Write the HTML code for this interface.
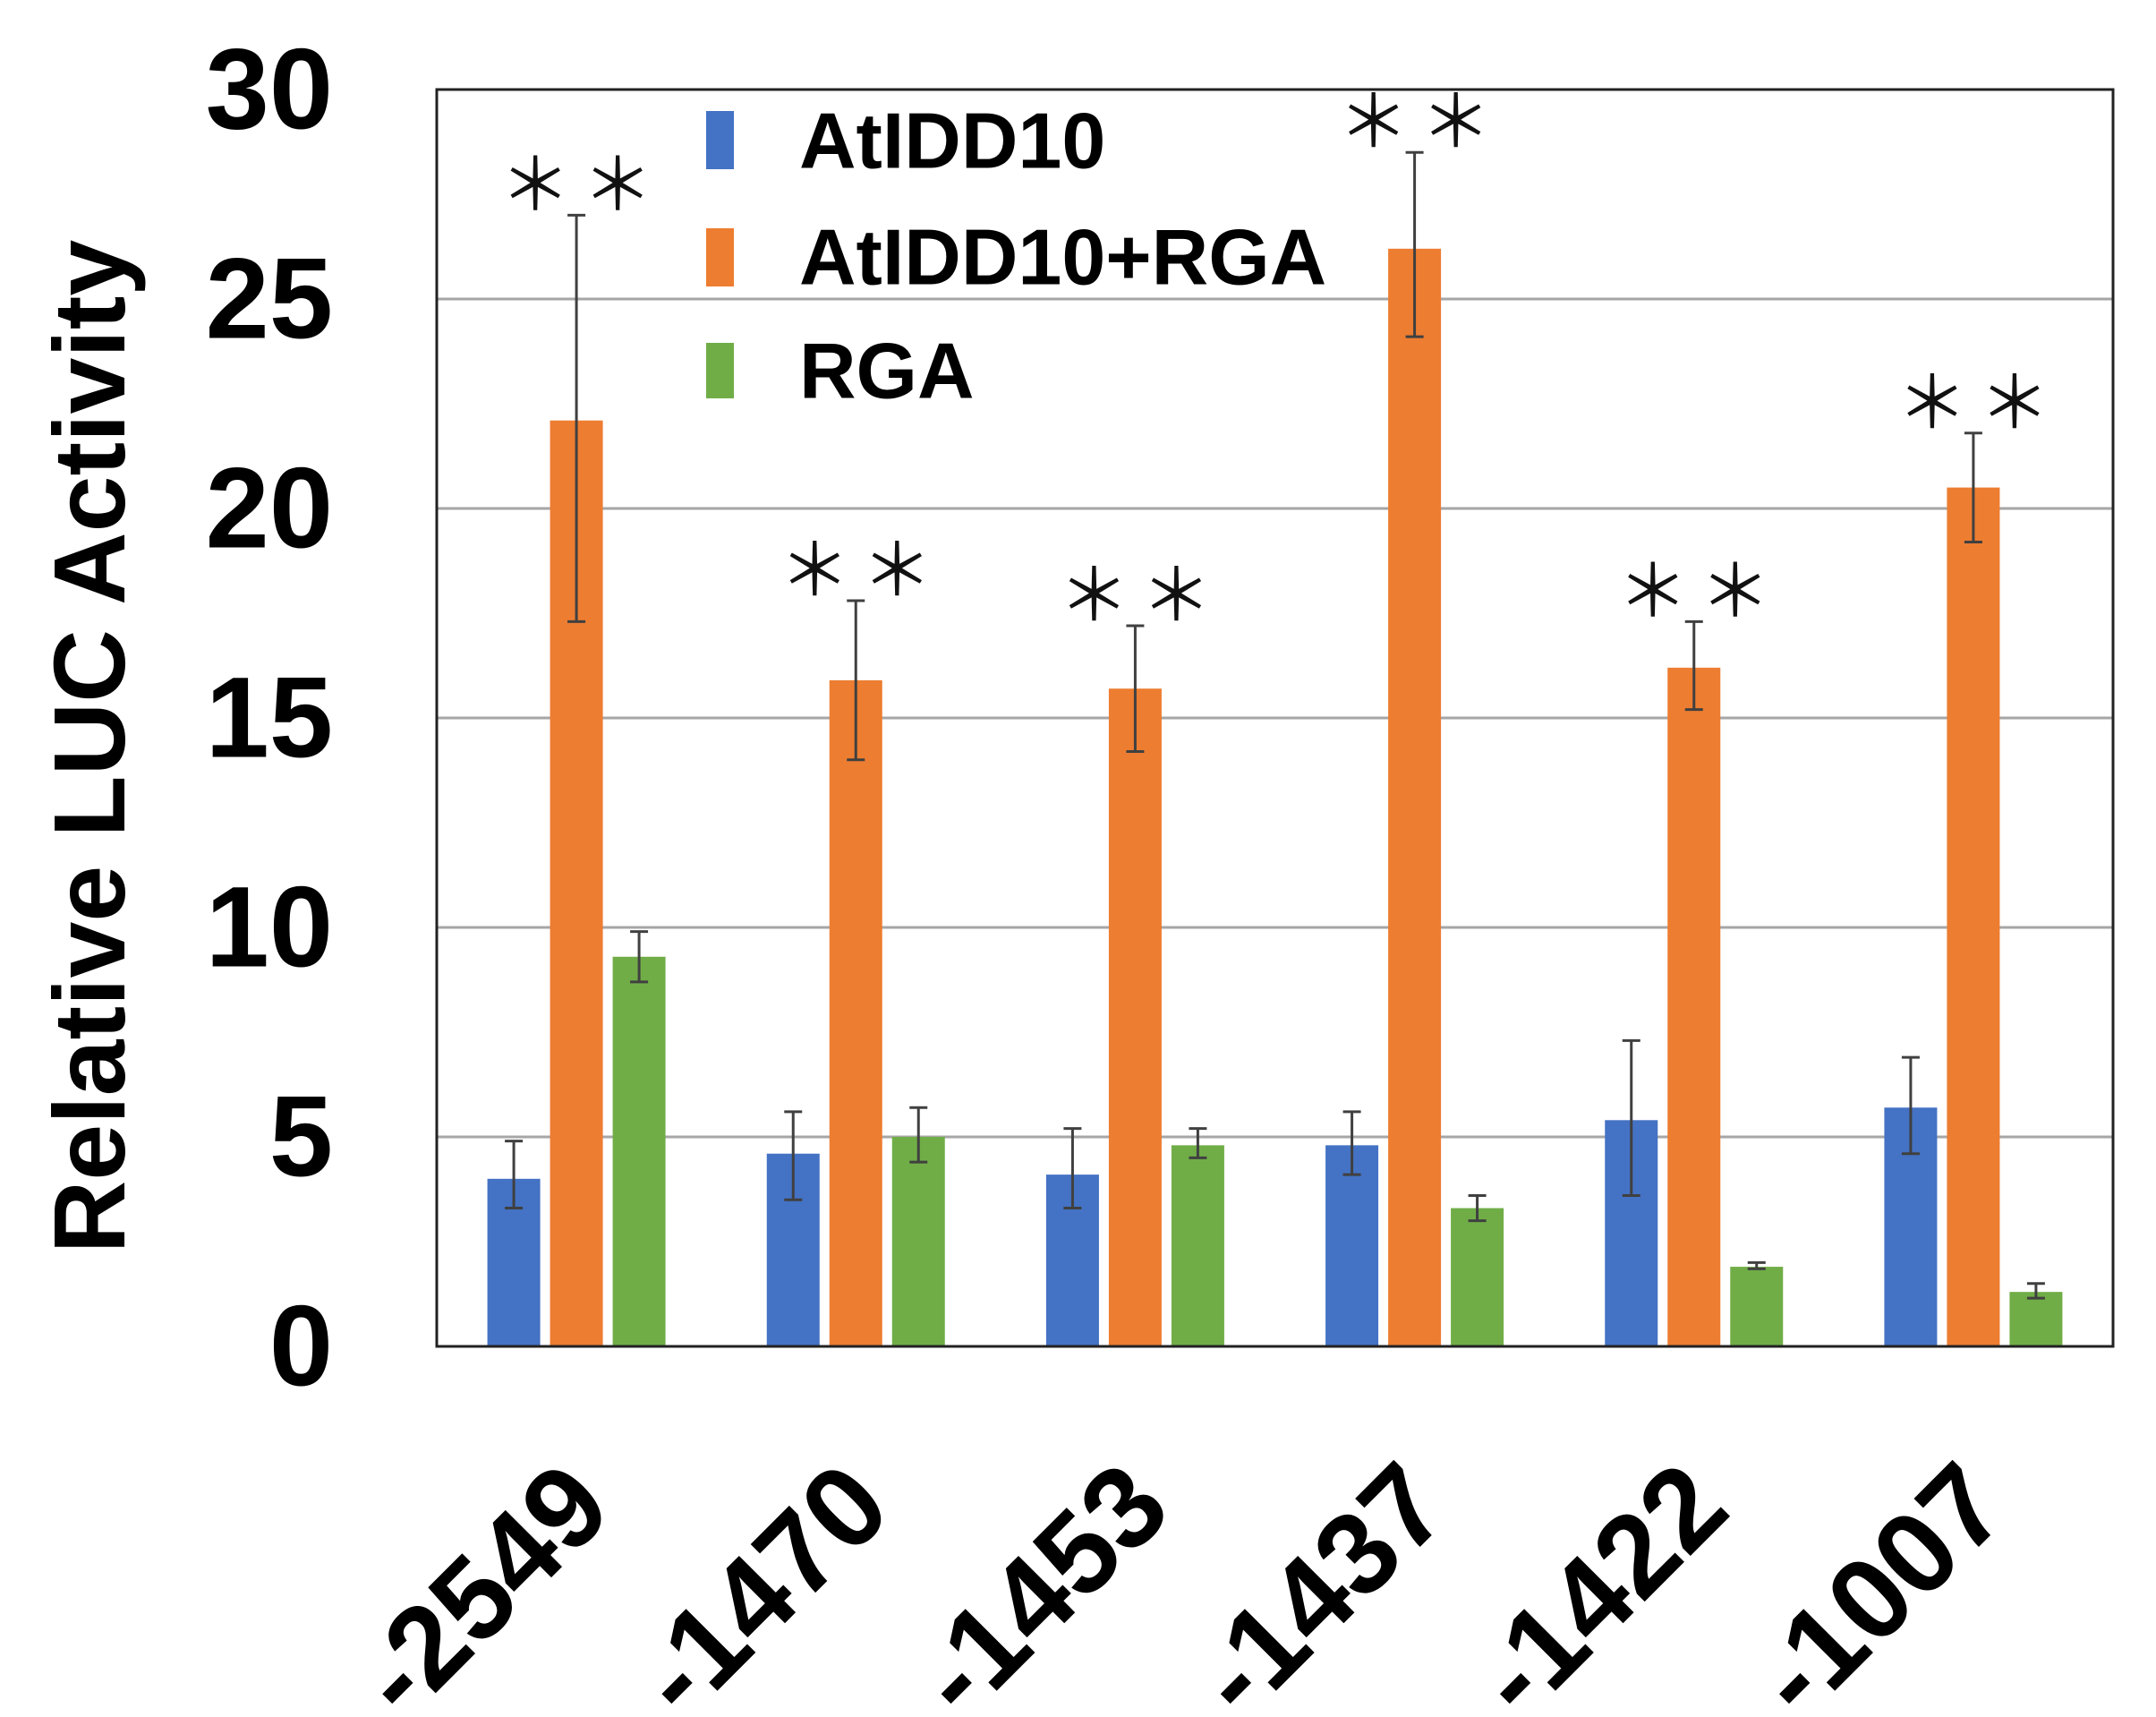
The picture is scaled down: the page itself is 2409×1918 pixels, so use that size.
<!DOCTYPE html>
<html><head><meta charset="utf-8"><style>
html,body{margin:0;padding:0;background:#fff;}
svg{display:block;}
</style></head><body>
<svg id="chart" width="2409" height="1918" viewBox="0 0 2409 1918" xmlns="http://www.w3.org/2000/svg">
<g id="grid"></g>
<g id="bars"></g>
<g id="errs"></g>
<g id="stars"></g>
<rect x="488" y="100" width="1873" height="1404" fill="none" stroke="#222" stroke-width="3"/>
<g id="yticks"></g>
<g id="xticks"></g>
<text x="100" y="834" transform="rotate(-90 100 834)" text-anchor="middle" dominant-baseline="central" font-family="Liberation Sans, sans-serif" font-weight="bold" font-size="113" fill="#000">Relative LUC Activity</text>
<g id="legend">
 <g>
  <rect x="789" y="124" width="31" height="65" fill="#4472C4"/>
  <text x="893" y="157" dominant-baseline="central" font-family="Liberation Sans, sans-serif" font-weight="bold" font-size="88">AtIDD10</text>
 </g>
 <g>
  <rect x="789" y="255" width="31" height="65" fill="#ED7D31"/>
  <text x="893" y="287" dominant-baseline="central" font-family="Liberation Sans, sans-serif" font-weight="bold" font-size="88">AtIDD10+RGA</text>
 </g>
 <g>
  <rect x="789" y="383" width="31" height="62" fill="#70AD47"/>
  <text x="893" y="414" dominant-baseline="central" font-family="Liberation Sans, sans-serif" font-weight="bold" font-size="88">RGA</text>
 </g>
</g>
</svg>
<script>
const categories = ["-2549","-1470","-1453","-1437","-1422","-1007"];
const seriesNames = ["AtIDD10","AtIDD10+RGA","RGA"];
const atidd10 = [4.0, 4.6, 4.1, 4.8, 5.4, 5.7];
const atidd10Lo = [3.3, 3.5, 3.3, 4.1, 3.6, 4.6];
const atidd10Hi = [4.9, 5.6, 5.2, 5.6, 7.3, 6.9];
const combo = [22.1, 15.9, 15.7, 26.2, 16.2, 20.5];
const comboLo = [17.3, 14.0, 14.2, 24.1, 15.2, 19.2];
const comboHi = [27.0, 17.8, 17.2, 28.5, 17.3, 21.8];
const rga = [9.3, 5.0, 4.8, 3.3, 1.9, 1.3];
const rgaLo = [8.7, 4.4, 4.5, 3.0, 1.85, 1.15];
const rgaHi = [9.9, 5.7, 5.2, 3.6, 2.0, 1.5];
const significant = [true, true, true, true, true, true];
const yTicks = [0,5,10,15,20,25,30];

const NS = "http://www.w3.org/2000/svg";
const L=488, R=2361, T=100, B=1504, YMAX=30;
function y(v){return B-(v/YMAX)*(B-T);}
function xc(i){return L+(i+0.5)*(R-L)/categories.length;}
const offsets=[-70,0,70], BW=59;
const colors=["#4472C4","#ED7D31","#70AD47"];
const vals=[atidd10,combo,rga], los=[atidd10Lo,comboLo,rgaLo], his=[atidd10Hi,comboHi,rgaHi];
const keys=["atidd10","atidd10-rga","rga"];
function mk(tag,attrs,parent){const e=document.createElementNS(NS,tag);for(const k in attrs)e.setAttribute(k,attrs[k]);parent.appendChild(e);return e;}
const grid=document.getElementById('grid'),bars=document.getElementById('bars'),errs=document.getElementById('errs'),stars=document.getElementById('stars'),yt=document.getElementById('yticks'),xt=document.getElementById('xticks');
yTicks.forEach(t=>{
  if(t>0&&t<YMAX){const g=mk('line',{x1:L,x2:R,y1:y(t),y2:y(t),stroke:'#a6a6a6','stroke-width':3},grid);
  
  }
  const tx=mk('text',{x:372,y:y(t),'text-anchor':'end','dominant-baseline':'central','font-family':'Liberation Sans, sans-serif','font-weight':'bold','font-size':128},yt);
  tx.textContent=t;
  
  
});
categories.forEach((c,i)=>{
  for(let s=0;s<3;s++){
    const cx=xc(i)+offsets[s];
    const r=mk('rect',{x:cx-BW/2,y:y(vals[s][i]),width:BW,height:B-y(vals[s][i]),fill:colors[s]},bars);
    
    
    const eg=mk('g',{stroke:'#404040','stroke-width':3},errs);
    
    
    mk('line',{x1:cx,x2:cx,y1:y(los[s][i]),y2:y(his[s][i])},eg);
    mk('line',{x1:cx-10,x2:cx+10,y1:y(los[s][i]),y2:y(los[s][i])},eg);
    mk('line',{x1:cx-10,x2:cx+10,y1:y(his[s][i]),y2:y(his[s][i])},eg);
  }
  if(significant[i]){
    const cx=xc(i), sy=y(comboHi[i])-40;
    [-46,46].forEach((d,k)=>{
      const st=mk('text',{x:cx+d,y:sy,'text-anchor':'middle','dominant-baseline':'central','font-family':'Noto Sans CJK JP, sans-serif','font-size':80,fill:'#111'},stars);
      st.textContent='＊';
      
      
    });
  }
  const bx=xc(i)+44, by=1690;
  const lt=mk('text',{x:bx,y:by,'text-anchor':'end',transform:'rotate(-45 '+bx+' '+by+')','font-family':'Liberation Sans, sans-serif','font-weight':'bold','font-size':130},xt);
  lt.textContent=c;
  
  
});
</script>
</body></html>
